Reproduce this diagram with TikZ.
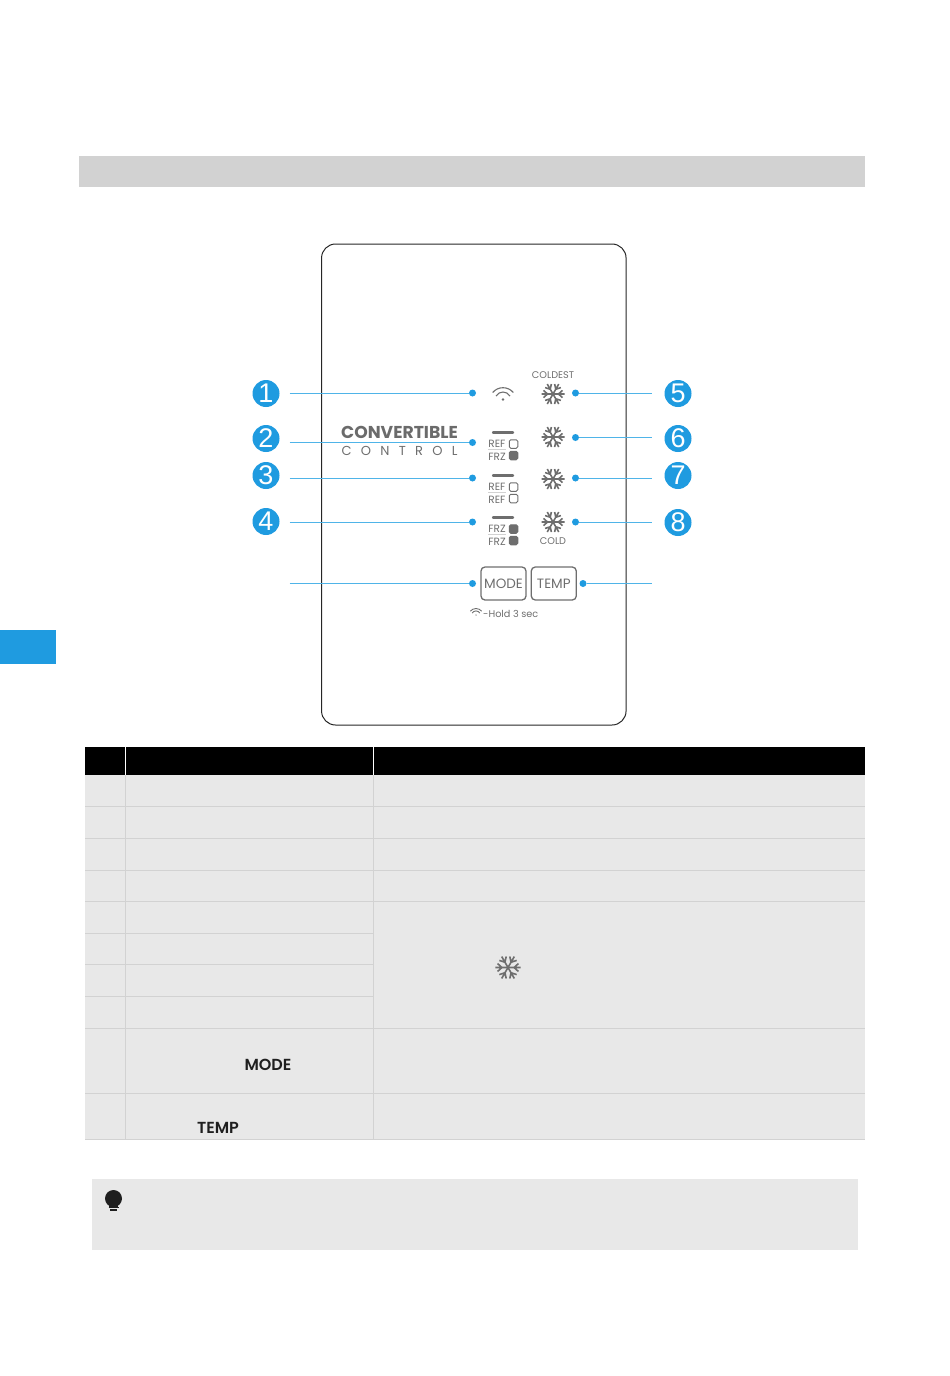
\documentclass[tikz,border=0pt]{standalone}
\usepackage{fontspec}
\setmainfont{Poppins}
\newfontfamily\numfont{Liberation Sans}
\newfontfamily\keyfont{Poppins SemiBold}
\usetikzlibrary{positioning}
\definecolor{tabblue}{HTML}{1F9BE0}
\definecolor{leaderblue}{HTML}{4FB4E8}
\definecolor{panelgray}{HTML}{6E6E6E}
\definecolor{rowgray}{HTML}{E8E8E8}
\definecolor{rulegray}{HTML}{D2D2D2}
\tikzset{
	badge/.style={circle, fill=tabblue, text=white, inner sep=0pt, minimum size=27pt, font=\numfont\fontsize{27}{27}\selectfont},
	dot/.style={circle, fill=tabblue, inner sep=0pt, minimum size=7pt},
	leader/.style={draw=leaderblue, line width=0.9pt},
	small/.style={text=panelgray, inner sep=0pt, font=\fontsize{9.7}{9.7}\selectfont},
	tiny/.style={text=panelgray, inner sep=0pt, font=\fontsize{10.5}{10.5}\selectfont},
	lamp/.style={draw=panelgray, line width=1pt, rounded corners=1.5pt, minimum size=8.5pt, inner sep=0pt},
	keybox/.style={draw=panelgray, line width=1.3pt, rounded corners=4pt, text=panelgray, inner sep=0pt, minimum width=45pt, minimum height=33pt, font=\fontsize{13.5}{13.5}\selectfont},
	cellkey/.style={text=black!88, inner sep=0pt, font=\keyfont\fontsize{16}{16}\selectfont},
	rowline/.style={draw=rulegray, line width=0.9pt},
	flake/.pic={
		\foreach \a in {0,60,...,300}{
			\draw[panelgray, line width=1.6pt, rotate=\a] (0,0) -- (11.5,0) (5.5,0) -- (9.5,3.6) (5.5,0) -- (9.5,-3.6);
		}
	},
	wifi/.pic={
		\draw[panelgray, line width=#1] (-10.3,-1.5) .. controls (-5,-7.9) and (5,-7.9) .. (10.3,-1.5);
		\draw[panelgray, line width=#1] (-7,2) .. controls (-3.5,-3.3) and (3.5,-3.3) .. (7,2);
		\fill[panelgray] (0,5.5) circle (1.3pt);
	},
	indicator/.pic={
		\draw[panelgray, line width=2.4pt, line cap=round] (-10,-8.5) -- (10,-8.5);
		\draw[rulegray, line width=0.8pt] (-15,8) -- (3,8);
	}
}
\begin{document}
\begin{tikzpicture}[x=1pt, y=-1pt]
	\useasboundingbox (0,0) rectangle (950,1376);
	% page bands
	\fill[rulegray] (79,156) rectangle (865,187);
	\fill[tabblue] (0,630) rectangle (56,664);
	% panel
	\node[draw=black!85, line width=1pt, rounded corners=14pt, minimum width=304.5pt, minimum height=481pt, inner sep=0pt] (panel) at (473.8,484.5) {};
	\node[text=black!58, inner sep=0pt, font=\fontsize{17.2}{17.2}\selectfont\bfseries] (brand) at (399.5,432) {CONVERTIBLE};
	\node[text=panelgray, inner sep=0pt, below=8pt of brand, font=\fontsize{13}{13}\selectfont] (brandsub) {C\hspace{9.3pt}O\hspace{9.3pt}N\hspace{9.3pt}T\hspace{9.3pt}R\hspace{9.3pt}O\hspace{9.3pt}L};
	% leaders on the left
	\foreach \n/\y in {1/393,2/442.5,3/478,4/522,9/583.5}{
		\node[dot] (dotl\n) at (472.5,\y) {};
		\coordinate (endl\n) at (289.5,\y);
		\draw[leader] (endl\n) -- (dotl\n);
	}
	% leaders on the right
	\foreach \n/\y in {5/393,6/437.5,7/478,8/522}{
		\node[dot] (dotr\n) at (575.5,\y) {};
		\coordinate (endr\n) at (652,\y);
		\draw[leader] (dotr\n) -- (endr\n);
	}
	\node[dot] (dotr10) at (583,583.5) {};
	\coordinate (endr10) at (652,583.5);
	\draw[leader] (dotr10) -- (endr10);
	% numbers
	\foreach \n/\y in {1/393.5,2/438.5,3/475.5,4/521.5}{
		\node[badge] (num\n) at (266,\y) {\n};
	}
	\foreach \n/\y in {5/393.5,6/438.5,7/475.5,8/522.5}{
		\node[badge] (num\n) at (678,\y) {\n};
	}
	% icons
	\pic at (503,394) {wifi=1.1pt};
	\foreach \y in {394,437,479,522}{
		\pic at (553,\y) {flake};
	}
	\node[small] (coldest) at (553,375) {COLDEST};
	\node[small] (cold) at (553,541.5) {COLD};
	% indicator sets
	\foreach \y/\ta/\tb/\fa/\fb in {441/REF/FRZ/white/panelgray,484/REF/REF/white/white,526/FRZ/FRZ/panelgray/panelgray}{
		\begin{scope}[yshift=-\y pt]
			\pic at (503,0) {indicator};
			\node[tiny] at (497,2.5) {\ta};
			\node[tiny] at (497,15.5) {\tb};
			\node[lamp, fill=\fa] at (513.5,3) {};
			\node[lamp, fill=\fb] at (513.5,14.5) {};
		\end{scope}
	}
	% keys
	\node[keybox] (mode) at (503.5,583.5) {MODE};
	\node[keybox, right=4pt of mode] (temp) {TEMP};
	\pic[scale=0.55] at (476,612) {wifi=0.9pt};
	\node[small, anchor=west] (hold) at (483,613.5) {-Hold 3 sec};
	% table
	\fill[rowgray] (85,775) rectangle (865,1139.5);
	\fill[black] (85,747) rectangle (865,775);
	\draw[white, line width=1pt] (125.5,747) -- (125.5,775) (373.5,747) -- (373.5,775);
	\foreach \y in {806.5,838,870,901.5,1028,1093,1139.5}{
		\draw[rowline] (85,\y) -- (865,\y);
	}
	\foreach \y in {933,964.5,996.5}{
		\draw[rowline] (85,\y) -- (373.5,\y);
	}
	\draw[rowline] (125.5,775) -- (125.5,1139.5);
	\draw[rowline] (373.5,775) -- (373.5,1139.5);
	\pic[scale=1.1] at (508,967.5) {flake};
	\node[cellkey] (cellmode) at (268,1065) {MODE};
	\node[cellkey] (celltemp) at (218,1127.5) {TEMP};
	% note
	\fill[rowgray] (92,1179) rectangle (858,1249.5);
	\fill[black!88] (113.5,1198.5) circle (8.5pt);
	\fill[black!88] (109,1203) rectangle (118,1206.5);
	\draw[black!88, line width=1.2pt] (108.5,1207.5) -- (118.5,1207.5);
	\draw[black!88, line width=1.2pt] (110,1210) -- (117,1210);
\end{tikzpicture}
\end{document}
